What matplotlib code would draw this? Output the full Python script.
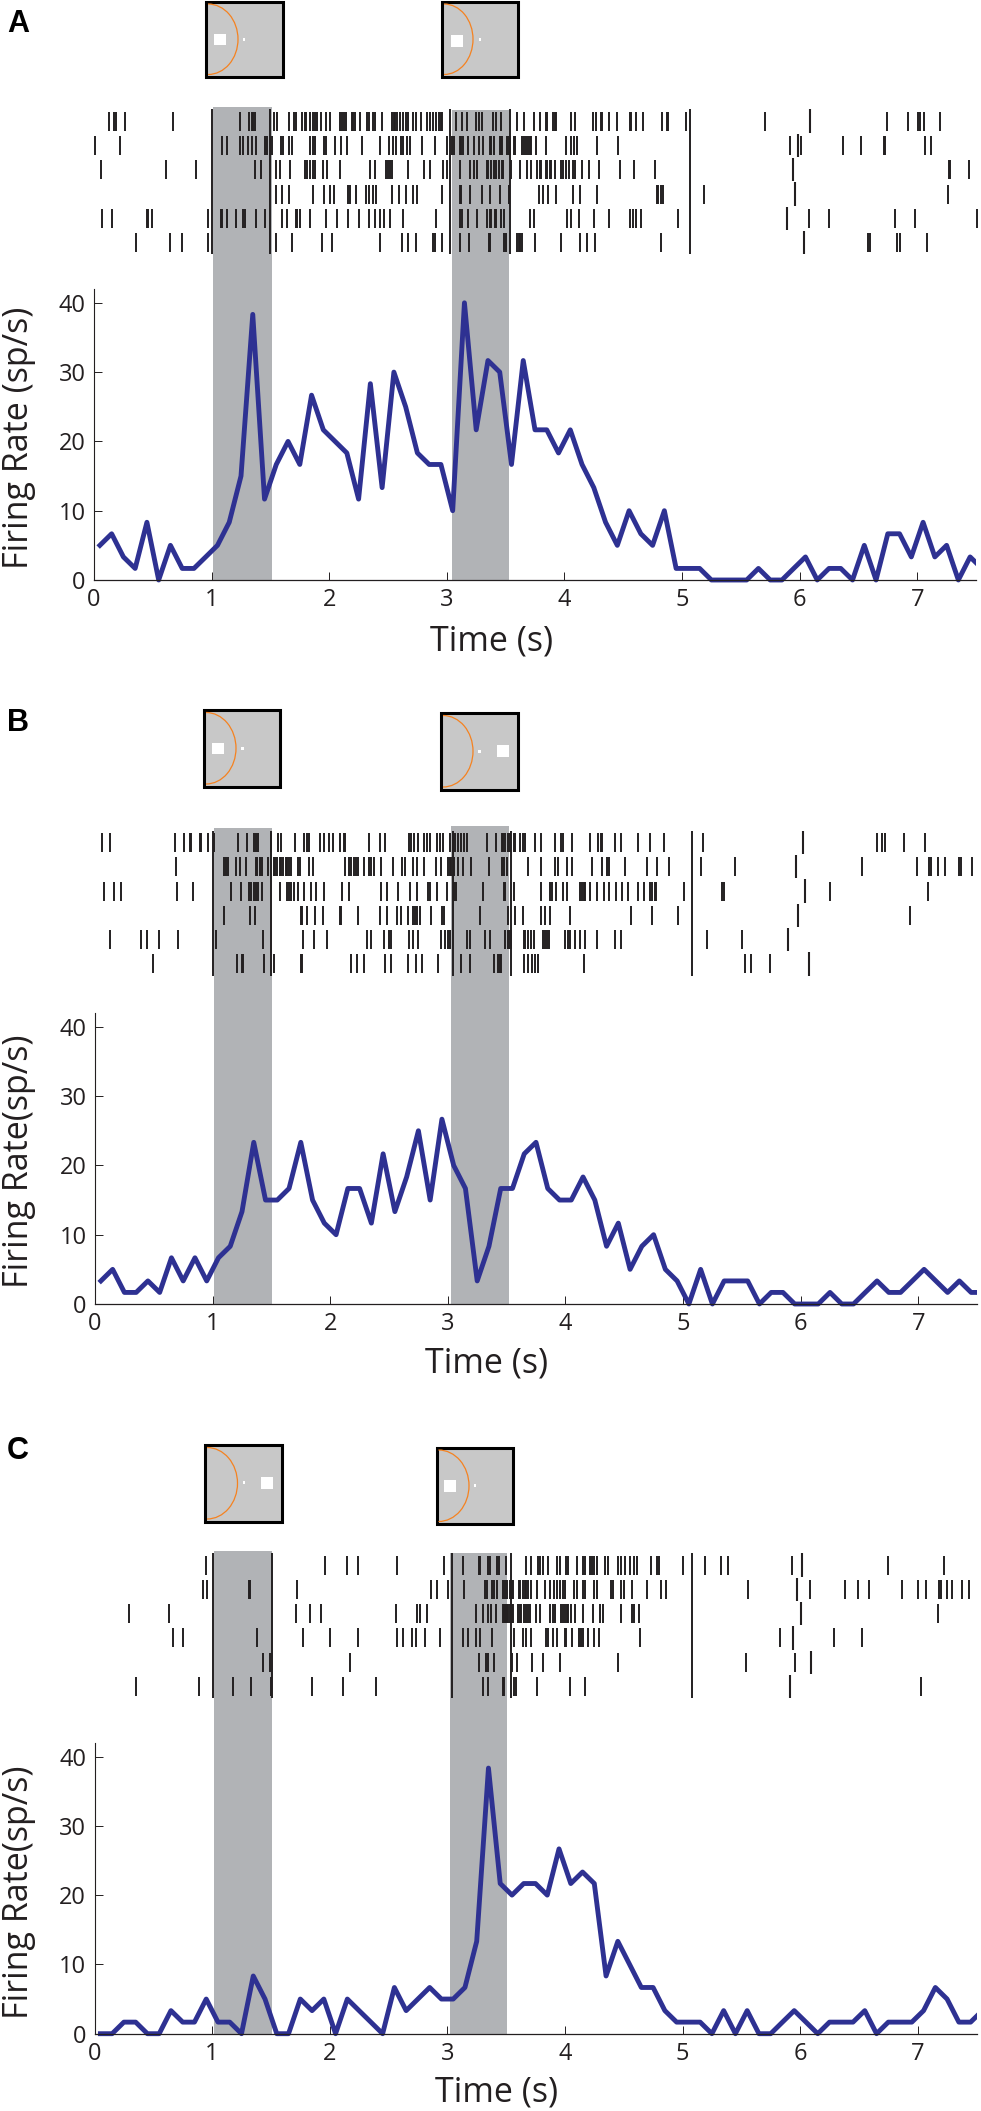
import matplotlib
matplotlib.use("Agg")
import matplotlib.pyplot as plt
import numpy as np
from matplotlib.patches import Rectangle, Arc
from matplotlib.transforms import Bbox, TransformedBbox

plt.rcParams['font.family'] = ['Open Sans', 'DejaVu Sans']

W, H = 981, 2111

# firing rate (sp/s), 100 ms bins
bin_centers = np.arange(76) * 0.1 + 0.05

rate_a = [5, 6.67, 3.33, 1.67, 8.33, 0, 5, 1.67, 1.67, 3.33,
          5, 8.33, 15, 38.33, 11.67, 16.67, 20, 16.67, 26.67, 21.67,
          20, 18.33, 11.67, 28.33, 13.33, 30, 25, 18.33, 16.67, 16.67,
          10, 40, 21.67, 31.67, 30, 16.67, 31.67, 21.67, 21.67, 18.33,
          21.67, 16.67, 13.33, 8.33, 5, 10, 6.67, 5, 10, 1.67,
          1.67, 1.67, 0, 0, 0, 0, 1.67, 0, 0, 1.67,
          3.33, 0, 1.67, 1.67, 0, 5, 0, 6.67, 6.67, 3.33,
          8.33, 3.33, 5, 0, 3.33, 1.67]

rate_b = [3.33, 5, 1.67, 1.67, 3.33, 1.67, 6.67, 3.33, 6.67, 3.33,
          6.67, 8.33, 13.33, 23.33, 15, 15, 16.67, 23.33, 15, 11.67,
          10, 16.67, 16.67, 11.67, 21.67, 13.33, 18.33, 25, 15, 26.67,
          20, 16.67, 3.33, 8.33, 16.67, 16.67, 21.67, 23.33, 16.67, 15,
          15, 18.33, 15, 8.33, 11.67, 5, 8.33, 10, 5, 3.33,
          0, 5, 0, 3.33, 3.33, 3.33, 0, 1.67, 1.67, 0,
          0, 0, 1.67, 0, 0, 1.67, 3.33, 1.67, 1.67, 3.33,
          5, 3.33, 1.67, 3.33, 1.67, 1.67]

rate_c = [0, 0, 1.67, 1.67, 0, 0, 3.33, 1.67, 1.67, 5,
          1.67, 1.67, 0, 8.33, 5, 0, 0, 5, 3.33, 5,
          0, 5, 3.33, 1.67, 0, 6.67, 3.33, 5, 6.67, 5,
          5, 6.67, 13.33, 38.33, 21.67, 20, 21.67, 21.67, 20, 26.67,
          21.67, 23.33, 21.67, 8.33, 13.33, 10, 6.67, 6.67, 3.33, 1.67,
          1.67, 1.67, 0, 3.33, 0, 3.33, 0, 0, 1.67, 3.33,
          1.67, 0, 1.67, 1.67, 1.67, 3.33, 0, 1.67, 1.67, 1.67,
          3.33, 6.67, 5, 1.67, 1.67, 3.33]

# spike times (s), one list per trial
spikes_a = [
    [.13, .17, .19, .26, .67, 1.24, 1.32, 1.34, 1.35, 1.37, 1.53, 1.56, 1.66, 1.70, 1.72, 1.77, 1.79, 1.80,
     1.84, 1.86, 1.88, 1.90, 1.93, 1.97, 2.01, 2.09, 2.11, 2.13, 2.14, 2.19, 2.20, 2.22, 2.26, 2.32, 2.34,
     2.37, 2.39, 2.45, 2.53, 2.55, 2.56, 2.58, 2.60, 2.63, 2.65, 2.67, 2.71, 2.74, 2.78, 2.83, 2.86, 2.88,
     2.91, 2.93, 2.95, 2.96, 3.08, 3.13, 3.17, 3.25, 3.27, 3.30, 3.39, 3.42, 3.46, 3.60, 3.66, 3.74, 3.79,
     3.84, 3.85, 3.90, 3.92, 3.93, 4.06, 4.09, 4.24, 4.27, 4.31, 4.32, 4.38, 4.45, 4.56, 4.57, 4.61, 4.67,
     4.83, 4.87, 4.88, 5.03, 5.71, 6.74, 6.92, 7.01, 7.02, 7.06, 7.19],
    [.01, .22, 1.09, 1.13, 1.24, 1.27, 1.31, 1.34, 1.38, 1.45, 1.47, 1.50, 1.51, 1.59, 1.61, 1.66, 1.68,
     1.84, 1.86, 1.88, 1.96, 1.97, 2.05, 2.10, 2.15, 2.28, 2.43, 2.51, 2.54, 2.57, 2.61, 2.63, 2.66, 2.69,
     2.79, 2.90, 3.00, 3.04, 3.06, 3.11, 3.12, 3.14, 3.18, 3.23, 3.27, 3.31, 3.37, 3.38, 3.40, 3.45, 3.46,
     3.47, 3.51, 3.53, 3.54, 3.57, 3.58, 3.64, 3.66, 3.67, 3.69, 3.71, 3.72, 3.76, 3.84, 4.01, 4.06, 4.08,
     4.11, 4.28, 4.46, 5.92, 6.01, 6.37, 6.52, 6.72, 6.73, 7.07, 7.12],
    [.06, .61, .87, 1.37, 1.42, 1.55, 1.58, 1.67, 1.79, 1.81, 1.84, 1.86, 1.88, 1.95, 1.98, 2.09, 2.35, 2.39,
     2.48, 2.50, 2.52, 2.53, 2.67, 2.81, 2.86, 2.97, 3.00, 3.11, 3.20, 3.23, 3.26, 3.34, 3.35, 3.38, 3.40,
     3.42, 3.44, 3.47, 3.48, 3.55, 3.62, 3.68, 3.72, 3.77, 3.79, 3.80, 3.84, 3.85, 3.88, 3.89, 3.92, 3.97,
     3.99, 4.01, 4.04, 4.07, 4.09, 4.15, 4.21, 4.29, 4.47, 4.59, 4.77, 7.27, 7.28, 7.44],
    [1.55, 1.60, 1.66, 1.86, 1.96, 2.01, 2.04, 2.16, 2.18, 2.23, 2.31, 2.34, 2.37, 2.40, 2.53, 2.59, 2.65,
     2.71, 2.75, 2.96, 3.11, 3.12, 3.20, 3.30, 3.37, 3.45, 3.53, 3.78, 3.82, 3.86, 3.93, 4.07, 4.13, 4.28,
     4.79, 4.80, 4.82, 4.84, 5.19, 7.26],
    [.07, .15, .45, .46, .49, .97, 1.08, 1.09, 1.13, 1.21, 1.27, 1.28, 1.38, 1.45, 1.60, 1.64, 1.72, 1.73,
     1.75, 1.84, 1.97, 2.07, 2.16, 2.25, 2.34, 2.39, 2.43, 2.47, 2.52, 2.63, 2.91, 3.11, 3.13, 3.18, 3.26,
     3.34, 3.37, 3.38, 3.41, 3.42, 3.46, 3.49, 3.71, 3.74, 4.02, 4.06, 4.12, 4.25, 4.38, 4.56, 4.58, 4.61,
     4.65, 4.97, 6.08, 6.25, 6.81, 6.98, 7.51],
    [.36, .65, .75, .97, 1.55, 1.68, 1.94, 2.02, 2.43, 2.62, 2.67, 2.74, 2.88, 2.90, 2.96, 3.11, 3.19, 3.36,
     3.37, 3.49, 3.50, 3.60, 3.61, 3.62, 3.64, 3.75, 3.97, 4.13, 4.19, 4.26, 4.82, 6.58, 6.60, 6.83, 6.85,
     7.08],
]

spikes_b = [
    [.06, .13, .68, .76, .81, .82, .89, .90, .96, 1.01, 1.22, 1.29, 1.35, 1.37, 1.39, 1.50, 1.56, 1.58, 1.70,
     1.78, 1.80, 1.82, 1.91, 1.95, 1.99, 2.02, 2.08, 2.12, 2.13, 2.33, 2.42, 2.47, 2.67, 2.69, 2.71, 2.75,
     2.80, 2.82, 2.85, 2.91, 2.93, 2.96, 3.02, 3.04, 3.06, 3.09, 3.11, 3.14, 3.16, 3.33, 3.41, 3.46, 3.47,
     3.49, 3.51, 3.53, 3.56, 3.57, 3.61, 3.64, 3.66, 3.74, 3.79, 3.91, 3.96, 3.98, 4.06, 4.21, 4.28, 4.30,
     4.31, 4.42, 4.47, 4.62, 4.72, 4.84, 5.17, 6.65, 6.69, 6.72, 6.88, 7.06],
    [.69, 1.10, 1.11, 1.13, 1.20, 1.23, 1.28, 1.37, 1.38, 1.40, 1.42, 1.47, 1.52, 1.53, 1.55, 1.57, 1.58,
     1.60, 1.62, 1.63, 1.65, 1.67, 1.73, 1.74, 1.82, 1.85, 2.13, 2.16, 2.18, 2.20, 2.22, 2.24, 2.29, 2.33,
     2.35, 2.37, 2.43, 2.53, 2.61, 2.64, 2.70, 2.74, 2.80, 2.90, 2.94, 3.00, 3.02, 3.03, 3.05, 3.09, 3.13,
     3.20, 3.35, 3.46, 3.48, 3.50, 3.68, 3.79, 3.91, 3.94, 4.01, 4.06, 4.23, 4.31, 4.35, 4.37, 4.51, 4.69,
     4.78, 4.88, 5.15, 5.44, 6.52, 6.99, 7.09, 7.11, 7.17, 7.23, 7.35, 7.36, 7.46],
    [.08, .16, .22, .70, .83, 1.16, 1.24, 1.31, 1.33, 1.35, 1.37, 1.39, 1.42, 1.57, 1.63, 1.65, 1.67, 1.69,
     1.73, 1.78, 1.84, 1.88, 1.95, 2.10, 2.16, 2.43, 2.48, 2.58, 2.68, 2.74, 2.83, 2.85, 2.91, 2.99, 3.05,
     3.07, 3.30, 3.48, 3.49, 3.56, 3.79, 3.87, 3.89, 3.92, 3.98, 4.01, 4.12, 4.14, 4.16, 4.17, 4.21, 4.27,
     4.33, 4.37, 4.43, 4.48, 4.53, 4.62, 4.67, 4.72, 4.74, 4.76, 4.77, 5.01, 5.33, 5.35, 6.25, 7.08],
    [1.10, 1.32, 1.36, 1.75, 1.76, 1.80, 1.87, 1.94, 2.08, 2.09, 2.24, 2.42, 2.48, 2.57, 2.60, 2.66, 2.70,
     2.72, 2.74, 2.76, 2.86, 2.95, 2.97, 3.27, 3.51, 3.57, 3.64, 3.79, 3.83, 3.87, 4.04, 4.56, 4.74, 4.96,
     6.93],
    [.13, .39, .44, .54, .71, 1.03, 1.43, 1.77, 1.86, 1.97, 2.31, 2.35, 2.46, 2.50, 2.52, 2.67, 2.70, 2.75,
     2.94, 2.98, 3.00, 3.02, 3.16, 3.19, 3.32, 3.36, 3.49, 3.51, 3.53, 3.54, 3.65, 3.66, 3.68, 3.71, 3.73,
     3.81, 3.83, 3.84, 3.86, 4.00, 4.02, 4.04, 4.08, 4.12, 4.17, 4.27, 4.42, 4.47, 5.20, 5.50],
    [.49, 1.21, 1.25, 1.26, 1.44, 1.52, 1.75, 1.76, 2.18, 2.23, 2.29, 2.47, 2.52, 2.66, 2.73, 2.78, 2.92,
     3.11, 3.19, 3.39, 3.43, 3.44, 3.45, 3.65, 3.68, 3.72, 3.74, 3.77, 4.16, 5.53, 5.58, 5.74],
]

spikes_c = [
    [.95, 1.96, 2.15, 2.24, 2.57, 2.97, 3.13, 3.27, 3.28, 3.35, 3.36, 3.42, 3.44, 3.50, 3.67, 3.71, 3.77, 3.79,
     3.81, 3.86, 3.93, 3.96, 4.01, 4.03, 4.10, 4.15, 4.17, 4.21, 4.23, 4.25, 4.27, 4.34, 4.37, 4.45, 4.48,
     4.51, 4.55, 4.59, 4.61, 4.73, 4.78, 4.80, 5.00, 5.19, 5.33, 5.39, 5.93, 6.75, 7.22],
    [.92, .96, 1.31, 1.32, 1.72, 2.86, 2.91, 3.01, 3.14, 3.32, 3.34, 3.38, 3.40, 3.42, 3.47, 3.49, 3.51, 3.53,
     3.55, 3.56, 3.61, 3.62, 3.64, 3.66, 3.67, 3.69, 3.71, 3.76, 3.83, 3.87, 3.91, 3.93, 3.96, 3.98, 4.00,
     4.08, 4.10, 4.15, 4.17, 4.25, 4.27, 4.39, 4.41, 4.48, 4.50, 4.57, 4.70, 4.82, 4.86, 5.56, 6.08, 6.38,
     6.49, 6.59, 6.87, 7.00, 7.07, 7.18, 7.20, 7.25, 7.29, 7.38, 7.44],
    [.29, .63, 1.71, 1.83, 1.93, 2.56, 2.74, 2.77, 2.83, 3.24, 3.30, 3.35, 3.37, 3.41, 3.47, 3.48, 3.49, 3.50,
     3.51, 3.52, 3.53, 3.55, 3.56, 3.60, 3.62, 3.63, 3.65, 3.67, 3.69, 3.70, 3.75, 3.79, 3.87, 3.90, 3.92,
     3.97, 3.98, 4.00, 4.02, 4.03, 4.05, 4.09, 4.15, 4.24, 4.30, 4.32, 4.48, 4.57, 4.59, 4.63, 7.17],
    [.67, .75, 1.38, 1.77, 2.00, 2.24, 2.57, 2.62, 2.70, 2.73, 2.81, 2.94, 3.13, 3.18, 3.24, 3.28, 3.38, 3.57,
     3.64, 3.67, 3.71, 3.84, 3.86, 3.90, 3.93, 4.00, 4.01, 4.06, 4.12, 4.14, 4.15, 4.20, 4.25, 4.29, 4.64,
     5.83, 6.29, 6.53],
    [1.43, 1.49, 2.17, 3.27, 3.33, 3.35, 3.40, 3.55, 3.59, 3.72, 3.81, 3.96, 4.45, 5.54, 5.96],
    [.35, .89, 1.18, 1.33, 1.50, 1.85, 2.11, 2.39, 3.30, 3.35, 3.47, 3.48, 3.57, 3.58, 3.76, 4.04, 4.17, 7.03],
]

# behavioural events: same time on every trial, plus the last one that moves by trial
events_a = [1.0, 1.5, 3.03, 3.54, 5.07]
events_b = [1.0, 1.5, 3.04, 3.54, 5.08]
events_c = [1.01, 1.51, 3.04, 3.54, 5.08]
last_event_a = [6.09, 5.99, 5.94, 5.96, 5.89, 6.04]
last_event_b = [6.02, 5.96, 6.04, 5.98, 5.89, 6.07]
last_event_c = [6.02, 5.97, 6.01, 5.94, 6.09, 5.91]

# grey stimulus periods (s)
bands_a = [(1.012, 1.51), (3.04, 3.53)]
bands_b = [(1.01, 1.505), (3.025, 3.52)]
bands_c = [(1.015, 1.51), (3.02, 3.51)]

x_ticks = [0, 1, 2, 3, 4, 5, 6, 7]
y_ticks = [0, 10, 20, 30, 40]

BAND = '#b1b3b6'
NAVY = '#2e3192'
INK = '#231f20'
ORANGE = '#f58220'

fig = plt.figure(figsize=(W / 100, H / 100), dpi=100)


def px_axes(left, top, right, bottom, **kw):
    # axes from pixel box, y counted from top of the image
    return fig.add_axes([left / W, 1 - bottom / H, (right - left) / W, (bottom - top) / H], **kw)


overlay = fig.add_axes([0, 0, 1, 1], zorder=5)
overlay.set_xlim(0, W)
overlay.set_ylim(H, 0)
overlay.axis('off')


def stim_box(left, top, right, bottom, arc_peak, square, dot):
    overlay.add_patch(Rectangle((left, top), right - left, bottom - top, fc='#c8c8c8', ec='black', lw=2.2))
    mid = (top + bottom) / 2
    overlay.add_patch(Arc((left + 2, mid), 2 * (arc_peak - left - 2), bottom - top - 5, theta1=-90, theta2=90,
                          color=ORANGE, lw=0.9))
    overlay.add_patch(Rectangle((square[0], square[1]), 12, 11.5, fc='white', ec='none'))
    overlay.add_patch(Rectangle((dot[0] - 1.2, dot[1] - 1.5), 2.4, 3, fc='white', ec='none'))


def panel(x0, y0, y_top, band_tops, raster_top, rate, spikes, events, last_event, bands,
          ylab, ylab_y, xlab_t, xlab_dy):
    right = x0 + 7.5 * 117.6
    height = 42 * 6.93
    top = y0 - height

    # grey bands run from the raster down to zero
    bg_top = min(band_tops)
    bg = px_axes(x0, bg_top, right, y0 + 1, zorder=1)
    bg.set_xlim(0, 7.5)
    bg.set_ylim(y0 + 1, bg_top)
    bg.axis('off')
    for (start, end), t in zip(bands, band_tops):
        bg.fill_between([start, end], t, y0 + 1, color=BAND, lw=0)

    # raster
    ar = px_axes(x0, raster_top, right, raster_top + 6 * 24.3, zorder=2)
    ar.set_xlim(0, 7.5)
    ar.set_ylim(5.5, -0.5)
    ar.axis('off')
    coll = ar.eventplot(spikes, lineoffsets=list(range(6)), linelengths=0.78, linewidths=1.4, colors=INK)
    for c in coll:
        c.set_clip_on(False)
    ar.vlines(events, -0.48, 5.48, color=INK, lw=1.4, clip_on=False)
    ar.vlines(last_event, np.arange(6) - 0.48, np.arange(6) + 0.48, color=INK, lw=1.5, clip_on=False)

    # firing rate
    ax = px_axes(x0, top, right, y0, zorder=3)
    ax.patch.set_visible(False)
    line, = ax.plot(bin_centers, rate, color=NAVY, lw=3.5, solid_joinstyle='round')
    line.set_clip_box(TransformedBbox(Bbox([[0, -0.05], [1, 1.05]]), ax.transAxes))
    ax.set_xlim(0, 7.5)
    ax.set_ylim(0, 42)
    ax.set_xticks(x_ticks)
    ax.set_yticks(y_ticks)
    ax.tick_params(direction='in', length=5.5, width=0.7, labelsize=17, color=INK, labelcolor=INK, pad=6)
    ax.spines['top'].set_visible(False)
    ax.spines['right'].set_visible(False)
    ax.spines['left'].set_linewidth(0.8)
    ax.spines['bottom'].set_linewidth(0.9)
    ax.spines['left'].set_color(INK)
    ax.spines['bottom'].set_color(INK)

    overlay.text(x0 + xlab_t * 117.6, y0 + xlab_dy, 'Time (s)', ha='center', va='center', fontsize=24.5, color=INK)
    overlay.text(19, ylab_y, ylab, rotation=90, ha='center', va='center', fontsize=24.5, color=INK)


panel(94, 580, 289, [107, 110], 109, rate_a, spikes_a, events_a, last_event_a, bands_a,
      'Firing Rate (sp/s)', 438, 3.38, 62)
panel(95, 1304, 1013, [827.7, 826], 830.3, rate_b, spikes_b, events_b, last_event_b, bands_b,
      'Firing Rate(sp/s)', 1161, 3.33, 59)
panel(94.5, 2033.7, 1742.7, [1550.7, 1552.7], 1552.9, rate_c, spikes_c, events_c, last_event_c, bands_c,
      'Firing Rate(sp/s)', 1892, 3.42, 59)

stim_box(206, 1.5, 283, 77, 238, (214, 33.5), (244, 39))
stim_box(442, 1.5, 518, 77, 473, (450.5, 35), (480, 39))
stim_box(204, 710, 280, 786.5, 236, (211.5, 742.5), (242.5, 748))
stim_box(441, 713, 518, 789.5, 473, (497, 745), (479.5, 751))
stim_box(205, 1445, 282, 1521.5, 237.5, (260.8, 1477), (243.8, 1482.7))
stim_box(436.5, 1447.5, 513, 1524, 469, (444, 1480), (475, 1485.7))

for letter, y in zip(['A', 'B', 'C'], [24, 723, 1451]):
    overlay.text(7, y, letter, fontsize=22, fontweight='bold', family=['Liberation Sans', 'DejaVu Sans'],
                 ha='left', va='center', color='black')

fig.savefig('out.png', dpi=100, facecolor='white')
